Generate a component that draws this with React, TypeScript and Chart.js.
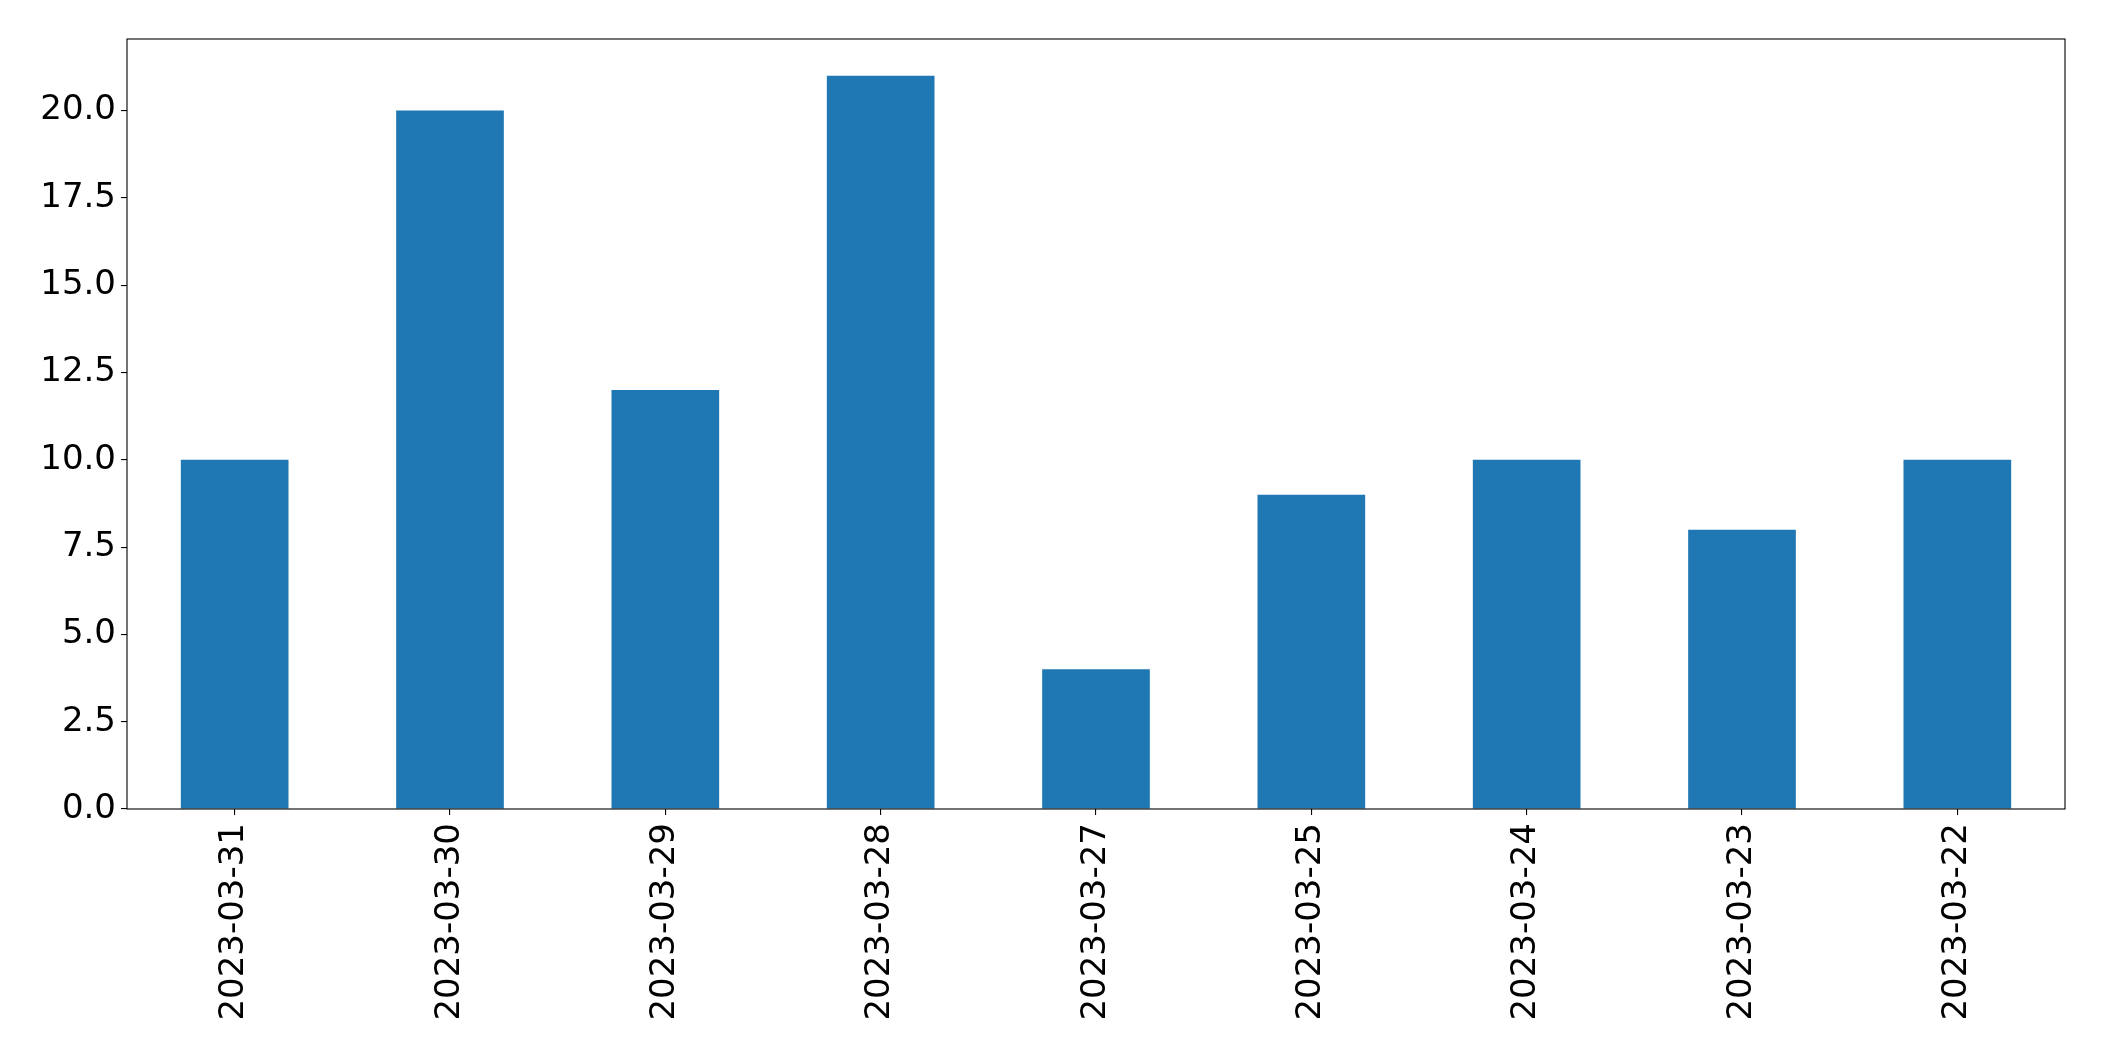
import React, { useEffect, useRef } from "react";
import { Chart, registerables } from "chart.js";

Chart.register(...registerables);

const categories = [
  "2023-03-31",
  "2023-03-30",
  "2023-03-29",
  "2023-03-28",
  "2023-03-27",
  "2023-03-25",
  "2023-03-24",
  "2023-03-23",
  "2023-03-22",
];
const values = [10, 20, 12, 21, 4, 9, 10, 8, 10];
const yTicks = [0, 2.5, 5, 7.5, 10, 12.5, 15, 17.5, 20];

const W = 2104;
const H = 1061;

const frame = {
  id: "frame",
  afterDatasetsDraw(chart: any) {
    const { ctx, chartArea } = chart;
    ctx.save();
    ctx.strokeStyle = "#000";
    ctx.lineWidth = 1.1;
    ctx.strokeRect(chartArea.left, chartArea.top, chartArea.right - chartArea.left, chartArea.bottom - chartArea.top);
    ctx.restore();
  },
};

export default function App() {
  const ref = useRef<HTMLCanvasElement | null>(null);
  useEffect(() => {
    if (!ref.current) return;
    const font = { family: "DejaVu Sans", size: 34 };
    const chart = new Chart(ref.current, {
      type: "bar",
      data: {
        labels: categories,
        datasets: [
          {
            data: values,
            backgroundColor: "#1f77b4",
            borderWidth: 0,
            categoryPercentage: 1,
            barPercentage: 0.5,
          },
        ],
      },
      options: {
        responsive: false,
        animation: false,
        devicePixelRatio: 1,
        layout: { padding: { top: 39, right: 39, left: 0, bottom: 0 } },
        plugins: { legend: { display: false }, tooltip: { enabled: false } },
        scales: {
          x: {
            offset: true,
            grid: { display: true, offset: false, drawOnChartArea: false, drawTicks: true, tickLength: 6, color: "#000", lineWidth: 1.1 },
            border: { display: false },
            ticks: { color: "#000", font, maxRotation: 90, minRotation: 90, padding: 8, autoSkip: false },
            afterFit(scale: any) {
              scale.height = H - 809;
            },
          },
          y: {
            min: 0,
            max: 22.05,
            grid: { display: true, drawOnChartArea: false, drawTicks: true, tickLength: 6, color: "#000", lineWidth: 1.1 },
            border: { display: false },
            ticks: {
              color: "#000",
              font,
              padding: 5,
              callback: (v: any) => Number(v).toFixed(1),
            },
            afterBuildTicks(scale: any) {
              scale.ticks = yTicks.map((v) => ({ value: v }));
            },
            afterFit(scale: any) {
              scale.width = 127;
            },
          },
        },
      },
      plugins: [frame],
    });
    return () => chart.destroy();
  }, []);
  return (
    <div style={{ position: "fixed", left: 0, top: 0, width: W, height: H, background: "#fff" }}>
      <canvas ref={ref} width={W} height={H} style={{ width: W, height: H, display: "block" }} />
    </div>
  );
}
